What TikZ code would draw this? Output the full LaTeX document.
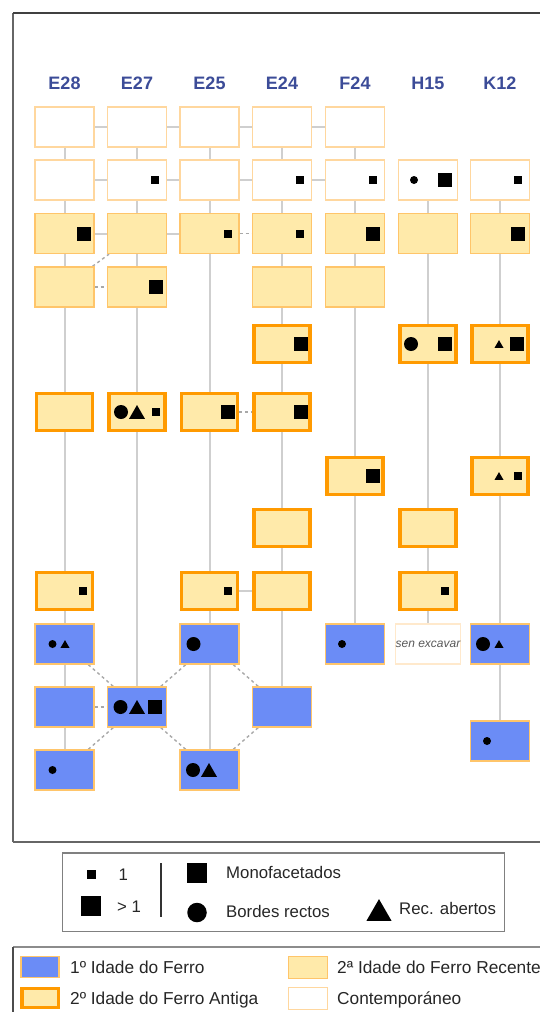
\documentclass[tikz,border=0pt]{standalone}
\usepackage{fontspec}
\setmainfont{Liberation Sans}
\usetikzlibrary{shapes.geometric}
\pgfdeclarelayer{bg}
\pgfsetlayers{bg,main}
\definecolor{lgray}{HTML}{CFCFCF}
\definecolor{dgray}{HTML}{A8A8A8}
\definecolor{pale}{HTML}{FFD79E}
\definecolor{palest}{HTML}{FFE9CC}
\definecolor{lorange}{HTML}{FFC56A}
\definecolor{dorange}{HTML}{FF9A00}
\definecolor{lyellow}{HTML}{FFEAAA}
\definecolor{fblue}{HTML}{6B8CF6}
\definecolor{lblue}{HTML}{3C4C98}
\definecolor{frame}{HTML}{666666}
\tikzset{
  bx/.style={rectangle, minimum width=59pt, minimum height=40pt, inner sep=0pt, line width=1.3pt},
  contemp/.style={bx, draw=pale, fill=white},
  senexc/.style={bx, draw=palest, fill=white, font=\fontsize{12}{12}\selectfont\itshape, text=black!65},
  recente/.style={bx, draw=lorange, fill=lyellow},
  antiga/.style={bx, draw=dorange, fill=lyellow, line width=3.5pt, minimum width=56pt, minimum height=37pt},
  ferro/.style={bx, draw=lorange, fill=fblue},
  vline/.style={draw=lgray, line width=2pt},
  dline/.style={draw=dgray, line width=1.4pt, dash pattern=on 3pt off 3pt},
  bsq/.style={rectangle, fill=black, minimum size=14pt, inner sep=0pt},
  ssq/.style={rectangle, fill=black, minimum size=8pt, inner sep=0pt},
  bci/.style={circle, fill=black, minimum size=14pt, inner sep=0pt},
  sci/.style={circle, fill=black, minimum size=8pt, inner sep=0pt},
  btr/.style={regular polygon, regular polygon sides=3, fill=black, minimum size=18.5pt, inner sep=0pt, yshift=-2.3pt},
  str/.style={regular polygon, regular polygon sides=3, fill=black, minimum size=10.4pt, inner sep=0pt, yshift=-1.3pt},
  collab/.style={font=\fontsize{18}{18}\selectfont\bfseries, text=lblue, inner sep=0pt, text height=12.9pt, text depth=0pt},
  legtext/.style={font=\fontsize{16.8}{18}\selectfont, text=black!85, inner sep=0pt, anchor=west, text height=12pt, text depth=0pt},
  legtextb/.style={legtext, font=\fontsize{17.3}{18}\selectfont, text height=12.4pt},
}
\begin{document}
\begin{tikzpicture}[x=1pt,y=-1pt]
\useasboundingbox (0,0) rectangle (540,1012);
\clip (0,0) rectangle (540,1012);
% main frame
\draw[frame, line width=1.8pt] (13,842) -- (545,842);
\draw[frame, line width=2pt] (13,842) -- (13,13);
\draw[black!75, line width=1.8pt] (13,13) -- (545,13);
% column labels
\node[collab] (lE28) at (64.5,83) {E28};
\node[collab] (lE27) at (137,83) {E27};
\node[collab] (lE25) at (209.5,83) {E25};
\node[collab] (lE24) at (282,83) {E24};
\node[collab] (lF24) at (355,83) {F24};
\node[collab] (lH15) at (428,83) {H15};
\node[collab] (lK12) at (500,83) {K12};
% E28
\node[contemp] (E28r1) at (64.5,127) {};
\node[contemp] (E28r2) at (64.5,180) {};
\node[recente] (E28r3) at (64.5,233.5) {};
\node[recente] (E28r4) at (64.5,287) {};
\node[antiga]  (E28r6) at (64.5,412) {};
\node[antiga]  (E28r9) at (64.5,591) {};
\node[ferro]   (E28r10) at (64.5,644) {};
\node[ferro]   (E28r11) at (64.5,707) {};
\node[ferro]   (E28r12) at (64.5,770) {};
% E27
\node[contemp] (E27r1) at (137,127) {};
\node[contemp] (E27r2) at (137,180) {};
\node[recente] (E27r3) at (137,233.5) {};
\node[recente] (E27r4) at (137,287) {};
\node[antiga]  (E27r6) at (137,412) {};
\node[ferro]   (E27r11) at (137,707) {};
% E25
\node[contemp] (E25r1) at (209.5,127) {};
\node[contemp] (E25r2) at (209.5,180) {};
\node[recente] (E25r3) at (209.5,233.5) {};
\node[antiga]  (E25r6) at (209.5,412) {};
\node[antiga]  (E25r9) at (209.5,591) {};
\node[ferro]   (E25r10) at (209.5,644) {};
\node[ferro]   (E25r12) at (209.5,770) {};
% E24
\node[contemp] (E24r1) at (282,127) {};
\node[contemp] (E24r2) at (282,180) {};
\node[recente] (E24r3) at (282,233.5) {};
\node[recente] (E24r4) at (282,287) {};
\node[antiga]  (E24r5) at (282,344) {};
\node[antiga]  (E24r6) at (282,412) {};
\node[antiga]  (E24r8) at (282,528) {};
\node[antiga]  (E24r9) at (282,591) {};
\node[ferro]   (E24r11) at (282,707) {};
% F24
\node[contemp] (F24r1) at (355,127) {};
\node[contemp] (F24r2) at (355,180) {};
\node[recente] (F24r3) at (355,233.5) {};
\node[recente] (F24r4) at (355,287) {};
\node[antiga]  (F24r7) at (355,476) {};
\node[ferro]   (F24r10) at (355,644) {};
% H15
\node[contemp] (H15r2) at (428,180) {};
\node[recente] (H15r3) at (428,233.5) {};
\node[antiga]  (H15r5) at (428,344) {};
\node[antiga]  (H15r8) at (428,528) {};
\node[antiga]  (H15r9) at (428,591) {};
\node[senexc]  (H15r10) at (428,644) {\raisebox{-3pt}{sen excavar}};
% K12
\node[contemp] (K12r2) at (500,180) {};
\node[recente] (K12r3) at (500,233.5) {};
\node[antiga]  (K12r5) at (500,344) {};
\node[antiga]  (K12r7) at (500,476) {};
\node[ferro]   (K12r10) at (500,644) {};
\node[ferro]   (K12r11) at (500,741) {};
% connectors
\begin{pgfonlayer}{bg}
\draw[vline] (E28r1) -- (E28r12);
\draw[vline] (E27r1) -- (E27r11);
\draw[vline] (E25r1) -- (E25r12);
\draw[vline] (E24r1) -- (E24r11);
\draw[vline] (F24r1) -- (F24r10);
\draw[vline] (H15r2) -- (H15r10);
\draw[vline] (K12r2) -- (K12r11);
\draw[vline] (E28r1) -- (E27r1);
\draw[vline] (E27r1) -- (E25r1);
\draw[vline] (E25r1) -- (E24r1);
\draw[vline] (E24r1) -- (F24r1);
\draw[vline] (E28r2) -- (E27r2);
\draw[vline] (E27r2) -- (E25r2);
\draw[vline] (E25r2) -- (E24r2);
\draw[vline] (E24r2) -- (F24r2);
\draw[vline] (E28r3) -- (E27r3);
\draw[vline] (E27r3) -- (E25r3);
\draw[dline] (E25r3) -- (E24r3);
\draw[dline] (E28r4) -- (E27r4);
\draw[dline] (E28r4) -- (E27r3);
\draw[dline] (E25r6) -- (E24r6);
\draw[vline] (E25r9) -- (E24r9);
\draw[dline] (E28r11) -- (E27r11);
\draw[dline] (E28r10) -- (E27r11);
\draw[dline] (E28r12) -- (E27r11);
\draw[dline] (E27r11) -- (E25r10);
\draw[dline] (E27r11) -- (E25r12);
\draw[dline] (E25r10) -- (E24r11);
\draw[dline] (E25r12) -- (E24r11);
\end{pgfonlayer}
% symbols
\node[bsq] (s1) at (83.5,233.5) {};
\node[ssq] (s2) at (82.5,591) {};
\node[sci] (s3) at (52.5,644) {};
\node[str] (s4) at (65,644) {};
\node[sci] (s5) at (52.5,770) {};
\node[ssq] (s6) at (155,180) {};
\node[bsq] (s7) at (156,287) {};
\node[bci] (s8) at (121,412) {};
\node[btr] (s9) at (137,412) {};
\node[ssq] (s10) at (155.5,412) {};
\node[bci] (s11) at (120.5,707) {};
\node[btr] (s12) at (137,707) {};
\node[bsq] (s13) at (155,707) {};
\node[ssq] (s14) at (227.5,233.5) {};
\node[bsq] (s15) at (228,412) {};
\node[ssq] (s16) at (227.5,591) {};
\node[bci] (s17) at (193.5,644) {};
\node[bci] (s18) at (193,770) {};
\node[btr] (s19) at (209,770) {};
\node[ssq] (s20) at (300,180) {};
\node[ssq] (s21) at (300,233.5) {};
\node[bsq] (s22) at (300.5,344) {};
\node[bsq] (s23) at (300.5,412) {};
\node[ssq] (s24) at (372.5,180) {};
\node[bsq] (s25) at (373,233.5) {};
\node[bsq] (s26) at (373,476) {};
\node[sci] (s27) at (342,644) {};
\node[sci] (s28) at (414,180) {};
\node[bsq] (s29) at (445,180) {};
\node[bci] (s30) at (411,344) {};
\node[bsq] (s31) at (445,344) {};
\node[ssq] (s32) at (445,591) {};
\node[ssq] (s33) at (517.5,180) {};
\node[bsq] (s34) at (518,233.5) {};
\node[str] (s35) at (499,344) {};
\node[bsq] (s36) at (517,344) {};
\node[str] (s37) at (499,476) {};
\node[ssq] (s38) at (518,476) {};
\node[bci] (s39) at (483,644) {};
\node[str] (s40) at (499,644) {};
\node[sci] (s41) at (487,741) {};
% legend 1
\draw[black!50, line width=1.6pt] (62.5,853) rectangle (504.5,931.5);
\node[ssq, minimum size=9pt] (g1) at (91.5,874) {};
\node[legtext] (g1t) at (118.5,874) {1};
\node[bsq, minimum size=20pt] (g2) at (91,905.5) {};
\node[legtext] (g2t) at (117,906) {> 1};
\coordinate (v1) at (161,863);
\coordinate (v2) at (161,917);
\draw[black!80, line width=1.5pt] (v1) -- (v2);
\node[bsq, minimum size=20pt] (g3) at (197,873) {};
\node[legtext] (g3t) at (226,872.5) {Monofacetados};
\node[bci, minimum size=19.5pt] (g4) at (197,912.5) {};
\node[legtext] (g4t) at (226,911.5) {Bordes rectos};
\node[btr, minimum size=29pt, yshift=-1.8pt] (g5) at (379,909.5) {};
\node[legtext] (g5t) at (399,908) {Rec. abertos};
% legend 2
\draw[black!45, line width=1.6pt] (13,947) -- (545,947);
\draw[black!70, line width=1.8pt] (13,947) -- (13,1015);
\node[ferro, minimum width=38pt, minimum height=21pt] (k1) at (40,967) {};
\node[legtextb] (k1t) at (70,967.5) {1º Idade do Ferro};
\node[antiga, minimum width=36.5pt, minimum height=19pt] (k2) at (40,998) {};
\node[legtextb] (k2t) at (70,998) {2º Idade do Ferro Antiga};
\node[recente, minimum width=39pt, minimum height=22pt] (k3) at (308,967.5) {};
\node[legtextb] (k3t) at (337,967.5) {2ª Idade do Ferro Recente};
\node[contemp, minimum width=39pt, minimum height=22pt] (k4) at (308,998.5) {};
\node[legtextb] (k4t) at (337,998) {Contemporáneo};
\end{tikzpicture}
\end{document}
